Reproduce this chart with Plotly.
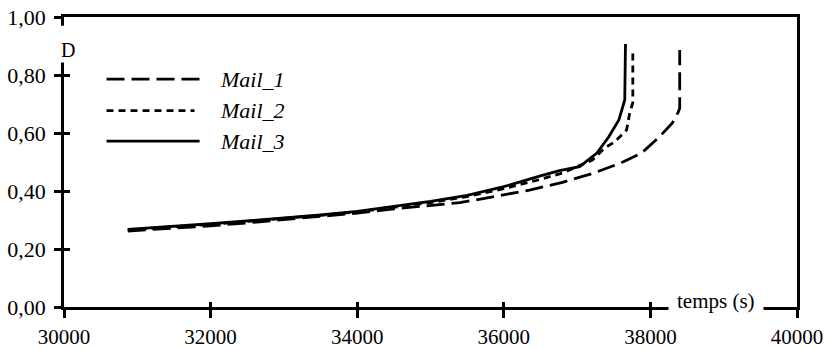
import plotly.graph_objects as go

series_names = ["Mail_1", "Mail_2", "Mail_3"]

mail1_t = [30870, 31500, 32000, 32500, 33000, 33500, 34000, 34500, 35000, 35400, 35700,
           36000, 36350, 36800, 37230, 37600, 37880, 38120, 38300, 38380, 38400, 38400]
mail1_d = [0.262, 0.271, 0.280, 0.290, 0.301, 0.312, 0.324, 0.338, 0.350, 0.360, 0.373,
           0.388, 0.403, 0.430, 0.462, 0.497, 0.531, 0.586, 0.635, 0.672, 0.685, 0.886]

mail2_t = [30870, 31500, 32000, 32500, 33000, 33500, 34000, 34500, 35000, 35500, 36000,
           36500, 36800, 37210, 37375, 37510, 37675, 37717, 37760, 37760]
mail2_d = [0.266, 0.276, 0.285, 0.295, 0.305, 0.316, 0.328, 0.344, 0.360, 0.381, 0.408,
           0.440, 0.462, 0.507, 0.548, 0.569, 0.610, 0.668, 0.705, 0.880]

mail3_t = [30870, 31500, 32000, 32500, 33000, 33500, 34000, 34500, 35000, 35500, 36000,
           36500, 36760, 37035, 37270, 37430, 37570, 37650, 37660]
mail3_d = [0.268, 0.278, 0.287, 0.297, 0.307, 0.318, 0.330, 0.347, 0.364, 0.385, 0.415,
           0.452, 0.470, 0.484, 0.531, 0.586, 0.645, 0.714, 0.907]

x_ticks = [30000, 32000, 34000, 36000, 38000, 40000]
y_ticks = [0.0, 0.2, 0.4, 0.6, 0.8, 1.0]

FONT = "Liberation Serif, Times New Roman, serif"
dashes = ["18px,7px", "7px,5px", "solid"]
series = [(mail1_t, mail1_d), (mail2_t, mail2_d), (mail3_t, mail3_d)]

fig = go.Figure()
for name, (t, d), dash in zip(series_names, series, dashes):
    fig.add_trace(go.Scatter(x=t, y=d, mode="lines", name=name,
                             line=dict(color="black", width=2.8, dash=dash),
                             showlegend=False))

# invisible trace to drive the overlay axes (inside ticks)
fig.add_trace(go.Scatter(x=[30000, 40000], y=[0, 1], xaxis="x2", yaxis="y2",
                         mode="markers", marker=dict(opacity=0), showlegend=False,
                         hoverinfo="skip"))

axis_common = dict(showgrid=False, zeroline=False, linecolor="black", linewidth=2.5,
                   tickcolor="black", tickwidth=2.5, showline=True, mirror=True,
                   automargin=False, ticklabeloverflow="allow")

fig.update_layout(
    width=831, height=349,
    margin=dict(l=64, r=34, t=17, b=42, autoexpand=False),
    paper_bgcolor="white", plot_bgcolor="white",
    separators=", ",
    font=dict(family=FONT, size=22, color="black"),
    xaxis=dict(range=[30000, 40000], tickvals=x_ticks, tickformat="d",
               ticks="outside", ticklen=8, ticklabelstandoff=1,
               tickfont=dict(family=FONT, size=21, color="black"), **axis_common),
    yaxis=dict(range=[0, 1], tickvals=y_ticks, tickformat=".2f",
               ticks="outside", ticklen=7, ticklabelstandoff=4, **axis_common),
    xaxis2=dict(range=[30000, 40000], tickvals=x_ticks, overlaying="x", anchor="y2",
                side="bottom", ticks="inside", ticklen=5, tickcolor="black", tickwidth=2.5,
                showticklabels=False, showgrid=False, zeroline=False, showline=False,
                automargin=False),
    yaxis2=dict(range=[0, 1], tickvals=y_ticks, overlaying="y", anchor="x2",
                side="left", ticks="inside", ticklen=6, tickcolor="black", tickwidth=2.5,
                showticklabels=False, showgrid=False, zeroline=False, showline=False,
                automargin=False),
)

# gap in y axis line for the "D" label
fig.add_shape(type="rect", xref="paper", yref="y", x0=-0.015, x1=0.015, y0=0.843, y1=0.970,
              fillcolor="white", line=dict(width=0), layer="above")
fig.add_annotation(text="D", xref="paper", yref="y", x=0.006, y=0.885, showarrow=False,
                   font=dict(family=FONT, size=20, color="black"), xanchor="center", yanchor="middle")

# x axis title breaking the bottom line
fig.add_annotation(text="temps (s)", xref="paper", yref="paper", x=0.89, y=0.0,
                   showarrow=False, bgcolor="white", borderpad=8, yshift=6,
                   font=dict(family=FONT, size=21, color="black"),
                   xanchor="center", yanchor="middle")

# manual legend
leg_y = [0.786, 0.677, 0.572]
leg_x1 = [0.192, 0.178, 0.185]
for name, dash, ly, lx1 in zip(series_names, dashes, leg_y, leg_x1):
    fig.add_shape(type="line", xref="paper", yref="paper", x0=0.058, x1=lx1, y0=ly, y1=ly,
                  line=dict(color="black", width=2.8, dash=dash))
    fig.add_annotation(text="<i>" + name + "</i>", xref="paper", yref="paper", x=0.21, y=ly,
                       showarrow=False, xanchor="left", yanchor="middle",
                       font=dict(family=FONT, size=22, color="black"))

# remove the default 8px page margin so the figure fills the window exactly
fig.write_html("out.html", config={"displayModeBar": False},
               post_script="document.body.style.margin='0';document.body.style.overflow='hidden';")
